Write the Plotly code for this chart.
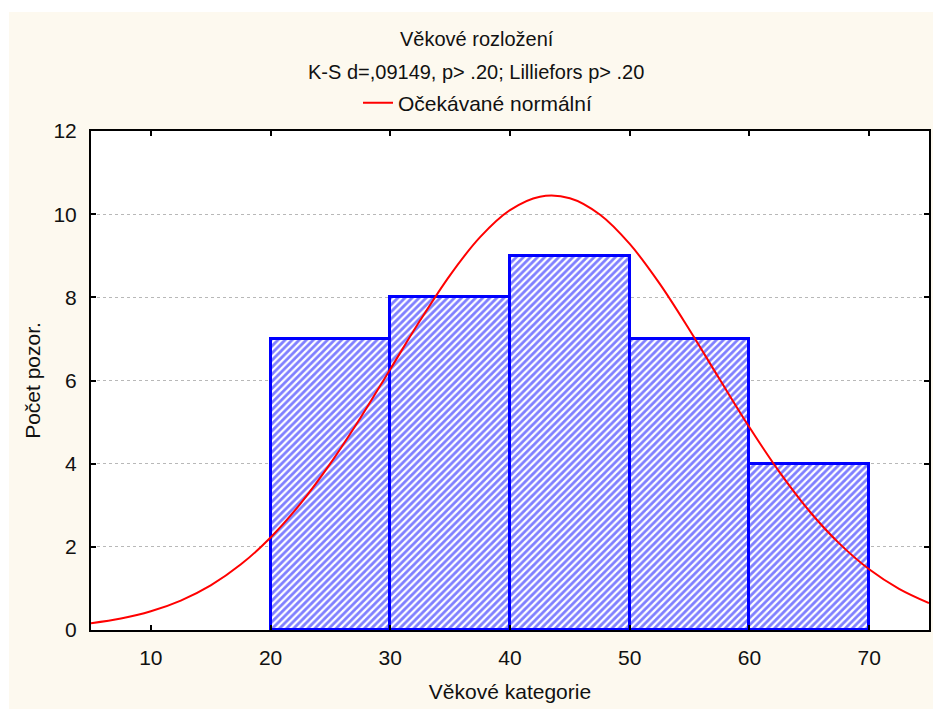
import plotly.graph_objects as go

# Histogram data
bin_left = [20, 30, 40, 50, 60]
bin_width = 10
counts = [7, 8, 9, 7, 4]

# Expected normal curve
curve_x = [5, 7.5, 10, 12.5, 15, 17.5, 20, 22.5, 25, 27.5, 30, 32.5, 35, 37.5,
           40, 42.5, 45, 47.5, 50, 52.5, 55, 57.5, 60, 62.5, 65, 67.5, 70, 72.5, 75]
curve_y = [0.164, 0.277, 0.451, 0.708, 1.074, 1.573, 2.225, 3.039, 4.006, 5.098,
           6.273, 7.447, 8.536, 9.448, 10.098, 10.421, 10.384, 9.992, 9.284, 8.329,
           7.215, 6.035, 4.874, 3.802, 2.862, 2.083, 1.461, 0.991, 0.648]

x_ticks = [10, 20, 30, 40, 50, 60, 70]
y_ticks = [0, 2, 4, 6, 8, 10, 12]

title_text = "Věkové rozložení"
subtitle_text = "K-S d=,09149, p> .20; Lilliefors p> .20"
legend_name = "Očekávané normální"
x_title = "Věkové kategorie"
y_title = "Počet pozor."

FONT = "Liberation Sans, Arial, sans-serif"
CREAM = "#fdf9ef"

centers = [b + bin_width / 2 for b in bin_left]

fig = go.Figure()
fig.add_trace(go.Bar(
    x=centers, y=counts, width=[bin_width] * len(counts),
    marker=dict(color="white",
                line=dict(color="#0000ff", width=3),
                pattern=dict(shape="/", fgcolor="#0000ff", bgcolor="white",
                             size=5, solidity=0.55, fillmode="overlay")),
    showlegend=False, hoverinfo="x+y"))
fig.add_trace(go.Scatter(
    x=curve_x, y=curve_y, mode="lines", name=legend_name,
    line=dict(color="#ff0000", width=2, shape="spline")))

L, R, T, B = 91, 4, 131, 79
W, H = 933, 709
pw, ph = W - L - R, H - T - B

def px_x(p):
    return (p - L) / pw

def px_y(p):
    return (H - B - p) / ph

fig.update_layout(
    width=W, height=H,
    margin=dict(l=L, r=R, t=T, b=B, autoexpand=False),
    paper_bgcolor=CREAM, plot_bgcolor="white",
    font=dict(family=FONT, size=21, color="#111111"),
    bargap=0,
    showlegend=True,
    legend=dict(orientation="h", x=px_x(358), xanchor="left",
                y=px_y(103), yanchor="middle",
                bgcolor="rgba(0,0,0,0)", font=dict(size=21),
                itemwidth=30),
    xaxis=dict(range=[5, 75], tickvals=x_ticks, ticks="inside", ticklen=5,
               tickwidth=2, tickcolor="black", showline=True, linecolor="black",
               linewidth=2, mirror="ticks", showgrid=False, zeroline=False,
               ticklabelstandoff=8,
               title=dict(text=x_title, standoff=16, font=dict(size=21))),
    yaxis=dict(range=[0, 12], tickvals=y_ticks, ticks="inside", ticklen=5,
               tickwidth=2, tickcolor="black", showline=True, linecolor="black",
               linewidth=2, mirror="ticks", showgrid=True, gridcolor="#b8b8b8",
               griddash="dot", gridwidth=1, zeroline=False,
               ticklabelstandoff=8,
               title=dict(text=y_title, standoff=7, font=dict(size=21))),
    annotations=[
        dict(text=title_text, xref="paper", yref="paper", x=px_x(477), y=px_y(39),
             xanchor="center", yanchor="middle", showarrow=False,
             font=dict(size=20)),
        dict(text=subtitle_text, xref="paper", yref="paper", x=px_x(476), y=px_y(72),
             xanchor="center", yanchor="middle", showarrow=False,
             font=dict(size=20)),
    ],
    shapes=[
        dict(type="rect", xref="paper", yref="paper", x0=px_x(0), x1=px_x(9),
             y0=px_y(H), y1=px_y(0), fillcolor="white", line=dict(width=0),
             layer="below"),
        dict(type="rect", xref="paper", yref="paper", x0=px_x(0), x1=px_x(W),
             y0=px_y(12), y1=px_y(0), fillcolor="white", line=dict(width=0),
             layer="below"),
    ],
)

fig.write_html("out.html", config={"displayModeBar": False},
               post_script="document.body.style.margin='0px';document.body.style.overflow='hidden';")
